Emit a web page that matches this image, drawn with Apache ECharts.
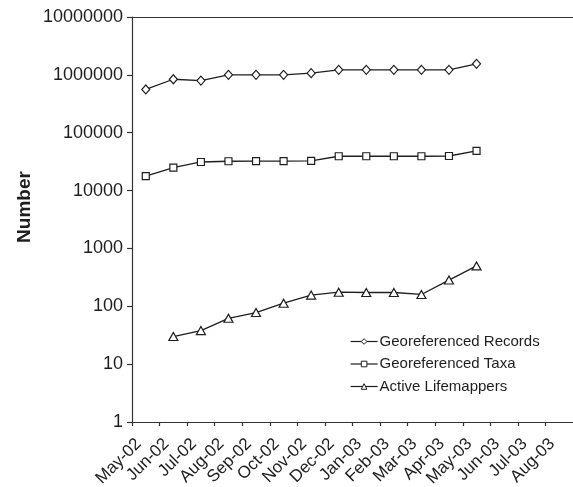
<!DOCTYPE html>
<html>
<head>
<meta charset="utf-8">
<script src="https://cdn.jsdelivr.net/npm/echarts@6/dist/echarts.min.js"></script>
<style>
html,body{margin:0;padding:0;background:#fff;}
#chart{width:573px;height:487px;}
</style>
</head>
<body>
<div id="chart"></div>
<script>
var months = ['May-02','Jun-02','Jul-02','Aug-02','Sep-02','Oct-02','Nov-02','Dec-02','Jan-03','Feb-03','Mar-03','Apr-03','May-03','Jun-03','Jul-03','Aug-03'];
var yTicks = [1, 10, 100, 1000, 10000, 100000, 1000000, 10000000];
var records = [560000, 840000, 795000, 1000000, 1000000, 1000000, 1070000, 1220000, 1220000, 1220000, 1220000, 1220000, 1550000];
var taxa = [17800, 24900, 31200, 32100, 32300, 32300, 32500, 39200, 39200, 39200, 39200, 39600, 48600];
var lifemappers = [null, 30, 38, 62, 78, 113, 156, 175, 173, 173, 160, 284, 499];
var seriesNames = ['Georeferenced Records', 'Georeferenced Taxa', 'Active Lifemappers'];
var yTitle = 'Number';

function toPoints(arr) {
  var out = [];
  arr.forEach(function (v, i) {
    if (v !== null) out.push([i + 0.5, v]);
  });
  return out;
}

var ink = '#1e1e1e';
var fontFam = '"Liberation Sans", Arial, sans-serif';

function mkSeries(name, data, symbol, size) {
  return {
    name: name,
    type: 'line',
    data: toPoints(data),
    symbol: symbol,
    symbolSize: size,
    showAllSymbol: true,
    lineStyle: { color: ink, width: 1.3 },
    itemStyle: { color: '#fff', borderColor: ink, borderWidth: 1.2 },
    emphasis: { disabled: true },
    animation: false,
    z: 3
  };
}

var chart = echarts.init(document.getElementById('chart'), null, { renderer: 'canvas' });
chart.setOption({
  animation: false,
  backgroundColor: '#fff',
  textStyle: { fontFamily: fontFam },
  grid: { left: 132, right: 0, top: 17, bottom: 65, containLabel: false, outerBoundsMode: 'none' },
  graphic: [{
    type: 'text',
    x: 25,
    y: 207,
    rotation: Math.PI / 2,
    style: {
      text: yTitle,
      fontFamily: fontFam,
      fontSize: 19,
      fontWeight: 'bold',
      fill: ink,
      align: 'center',
      verticalAlign: 'middle'
    }
  }],
  legend: {
    orient: 'vertical',
    left: 345,
    top: 329,
    itemWidth: 27,
    itemHeight: 7,
    itemGap: 7.5,
    data: seriesNames,
    itemStyle: { color: '#fff', borderColor: ink, borderWidth: 1 },
    lineStyle: { color: ink, width: 1.2 },
    textStyle: { fontFamily: fontFam, fontSize: 15, color: ink, padding: [0, 0, 0, -3] },
    selectedMode: false
  },
  xAxis: [{
    type: 'value',
    min: 0,
    max: 16,
    interval: 1,
    axisLine: { show: true, lineStyle: { color: '#333', width: 1.2 } },
    axisTick: { show: true, length: 4, inside: false, lineStyle: { color: '#333', width: 1.2 } },
    splitLine: { show: false },
    axisLabel: {
      rotate: 45,
      margin: 12.5,
      align: 'right',
      verticalAlign: 'top',
      lineHeight: 19,
      fontFamily: fontFam,
      fontSize: 17,
      color: ink,
      showMinLabel: true,
      showMaxLabel: false,
      hideOverlap: false,
      formatter: function (v) {
        var i = Math.round(v);
        return months[i] !== undefined ? months[i] : '';
      }
    }
  }, {
    type: 'value',
    position: 'top',
    min: 0,
    max: 16,
    axisLine: { show: true, lineStyle: { color: '#333', width: 1.2 } },
    axisTick: { show: false },
    axisLabel: { show: false },
    splitLine: { show: false }
  }],
  yAxis: {
    type: 'log',
    logBase: 10,
    min: yTicks[0],
    max: yTicks[yTicks.length - 1],
    axisLine: { show: true, lineStyle: { color: '#333', width: 1.2 } },
    axisTick: { show: true, length: 5, lineStyle: { color: '#333', width: 1.2 } },
    splitLine: { show: false },
    minorTick: { show: false },
    axisLabel: {
      margin: 9,
      fontFamily: fontFam,
      fontSize: 18,
      color: ink,
      showMinLabel: true,
      showMaxLabel: true,
      formatter: function (v) { return String(Math.round(v)); }
    }
  },
  series: [
    mkSeries(seriesNames[0], records, 'diamond', [8, 9]),
    mkSeries(seriesNames[1], taxa, 'rect', 7),
    mkSeries(seriesNames[2], lifemappers, 'triangle', [9, 8])
  ]
});
</script>
</body>
</html>
